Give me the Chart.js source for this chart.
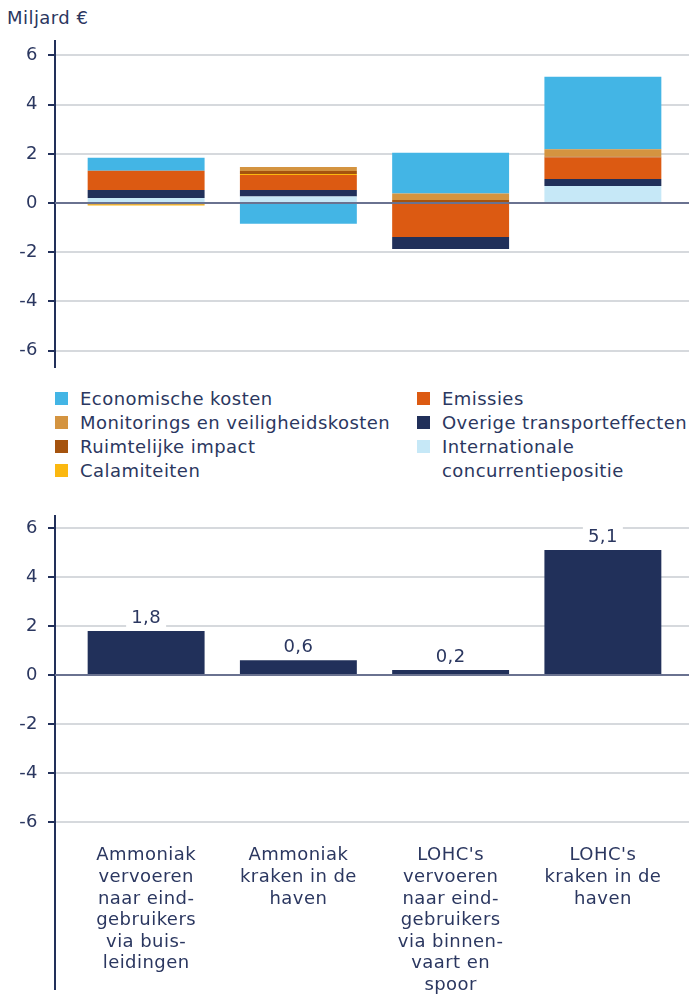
<!DOCTYPE html>
<html>
<head>
<meta charset="utf-8">
<script src="https://cdn.jsdelivr.net/npm/chart.js@4/dist/chart.umd.min.js"></script>
<style>
  body { margin: 0; background: #fff; font-family: "DejaVu Sans", sans-serif; color: #2b3760; letter-spacing: 0.45px; }
  #wrap { position: relative; width: 689px; height: 997px; overflow: hidden; }
  #unit { position: absolute; left: 7px; top: 7px; font-size: 18px; }
  #topBox { position: absolute; left: 0; top: 0; width: 689px; height: 380px; }
  #bottomBox { position: absolute; left: 0; top: 500px; width: 689px; height: 497px; }
  #legend { position: absolute; left: 55px; top: 387px; width: 634px; font-size: 18px; line-height: 24px; }
  .col { position: absolute; top: 0; }
  .item { position: relative; padding-left: 25px; white-space: nowrap; }
  .item i { position: absolute; left: 0; top: 5px; width: 13px; height: 13px; }
</style>
</head>
<body>
<div id="wrap">
  <div id="unit">Miljard €</div>
  <div id="topBox"><canvas id="topChart" width="689" height="380"></canvas></div>
  <div id="legend"></div>
  <div id="bottomBox"><canvas id="bottomChart" width="689" height="497"></canvas></div>
</div>
<script>
(function () {
  const $ = id => document.getElementById(id);
  const textColor = "#2b3760";

  // categories (tick labels for the bottom chart, one line per entry)
  const categories = [
    ["Ammoniak", "vervoeren", "naar eind-", "gebruikers", "via buis-", "leidingen"],
    ["Ammoniak", "kraken in de", "haven"],
    ["LOHC's", "vervoeren", "naar eind-", "gebruikers", "via binnen-", "vaart en", "spoor"],
    ["LOHC's", "kraken in de", "haven"]
  ];

  // effects per category, in Miljard €
  const economischeKosten = [0.53, -0.84, 1.65, 2.95];
  const emissies = [0.78, 0.61, -1.38, 0.87];
  const monitorings = [0, 0.16, 0.27, 0.31];
  const overigeTransport = [0.33, 0.27, -0.49, 0.29];
  const ruimtelijkeImpact = [-0.05, 0.12, 0.12, 0.03];
  const internationale = [0.2, 0.26, 0, 0.69];
  const calamiteiten = [-0.05, 0.04, 0, 0];

  // net totals (bottom chart)
  const totals = [1.8, 0.6, 0.2, 5.1];

  const yTicks = [-6, -4, -2, 0, 2, 4, 6];

  // stacking order from the zero line upwards
  const stackSeries = [
    { name: "Internationale concurrentiepositie", data: internationale, color: "#c6e8f7" },
    { name: "Overige transporteffecten", data: overigeTransport, color: "#21305a" },
    { name: "Emissies", data: emissies, color: "#dc5a12" },
    { name: "Calamiteiten", data: calamiteiten, color: "#fbb810" },
    { name: "Ruimtelijke impact", data: ruimtelijkeImpact, color: "#a5530e" },
    { name: "Monitorings en veiligheidskosten", data: monitorings, color: "#d49440" },
    { name: "Economische kosten", data: economischeKosten, color: "#43b5e5" }
  ];

  const legendOrder = [
    "Economische kosten", "Emissies",
    "Monitorings en veiligheidskosten", "Overige transporteffecten",
    "Ruimtelijke impact", ["Internationale", "concurrentiepositie"],
    "Calamiteiten"
  ];

  // legend (two columns)
  const legend = $("legend");
  const cols = [document.createElement("div"), document.createElement("div")];
  cols[0].className = "col"; cols[0].style.left = "0px";
  cols[1].className = "col"; cols[1].style.left = "362px";
  legendOrder.forEach((entry, i) => {
    const lines = Array.isArray(entry) ? entry : [entry];
    const s = stackSeries.find(d => d.name === lines.join(" "));
    const it = document.createElement("div");
    it.className = "item";
    it.innerHTML = `<i style="background:${s.color}"></i>${lines.join("<br>")}`;
    cols[i % 2].appendChild(it);
  });
  cols.forEach(c => legend.appendChild(c));

  // axis, gridlines and zero line drawn across the full width
  const axisPlugin = {
    id: "axisLines",
    beforeDraw(chart) {
      chart.ctx.letterSpacing = "0.45px";
    },
    beforeDatasetsDraw(chart, args, opts) {
      const ctx = chart.ctx, y = chart.scales.y;
      ctx.save();
      ctx.lineWidth = 2;
      ctx.strokeStyle = "#d6d9dd";
      yTicks.forEach(v => {
        if (v === 0) return;
        const py = Math.round(y.getPixelForValue(v));
        ctx.beginPath(); ctx.moveTo(55, py); ctx.lineTo(chart.width, py); ctx.stroke();
      });
      ctx.strokeStyle = "#22305a";
      ctx.beginPath(); ctx.moveTo(55, opts.top); ctx.lineTo(55, opts.bottom); ctx.stroke();
      yTicks.forEach(v => {
        const py = Math.round(y.getPixelForValue(v));
        ctx.beginPath(); ctx.moveTo(48, py); ctx.lineTo(55, py); ctx.stroke();
      });
      ctx.restore();
    },
    afterDatasetsDraw(chart) {
      const ctx = chart.ctx, y = chart.scales.y;
      const py = Math.round(y.getPixelForValue(0));
      ctx.save();
      ctx.lineWidth = 2;
      ctx.strokeStyle = "#6a7290";
      ctx.beginPath(); ctx.moveTo(55, py); ctx.lineTo(chart.width, py); ctx.stroke();
      ctx.restore();
    }
  };

  // value above each total bar, on a white box that cuts the gridline
  const valueLabels = {
    id: "valueLabels",
    afterDatasetsDraw(chart) {
      const ctx = chart.ctx;
      const meta = chart.getDatasetMeta(0);
      ctx.save();
      ctx.font = '18px "DejaVu Sans"';
      ctx.textAlign = "center";
      ctx.textBaseline = "middle";
      meta.data.forEach((bar, i) => {
        const txt = totals[i].toLocaleString("nl-NL");
        const w = ctx.measureText(txt).width + 10;
        const cy = bar.y - 13;
        ctx.fillStyle = "#fff";
        ctx.fillRect(bar.x - w / 2, cy - 11, w, 22);
        ctx.fillStyle = textColor;
        ctx.fillText(txt, bar.x, cy);
      });
      ctx.restore();
    }
  };

  const yScale = (min, max) => ({
    min: min, max: max, bounds: "data",
    border: { display: false },
    grid: { display: false, drawTicks: false },
    afterBuildTicks: s => { s.ticks = yTicks.map(v => ({ value: v })); },
    ticks: { padding: 32, color: textColor, font: { size: 18 } },
    afterFit: s => { s.width = 70; s.paddingTop = 0; s.paddingBottom = 0; }
  });

  // top chart: positive parts stack upward in series order, negative parts downward in reverse order
  const posSets = stackSeries.map(s => ({
    label: s.name, data: s.data.map(v => v > 0 ? v : null),
    backgroundColor: s.color, borderWidth: 0, stack: "s"
  }));
  const negSets = stackSeries.slice().reverse().map(s => ({
    label: s.name, data: s.data.map(v => v < 0 ? v : null),
    backgroundColor: s.color, borderWidth: 0, stack: "s"
  }));

  Chart.defaults.font.family = "DejaVu Sans";

  new Chart($("topChart").getContext("2d"), {
    type: "bar",
    data: { labels: categories.map(c => c.join(" ")), datasets: posSets.concat(negSets) },
    options: {
      responsive: false, maintainAspectRatio: false, animation: false,
      layout: { padding: { top: 40, bottom: 12, right: 10, left: 0 } },
      categoryPercentage: 1, barPercentage: 0.768,
      plugins: { legend: { display: false }, tooltip: { enabled: false }, axisLines: { top: 40, bottom: 368 } },
      scales: {
        x: { stacked: true, display: false },
        y: Object.assign(yScale(-6.71, 6.63), { stacked: true })
      }
    },
    plugins: [axisPlugin]
  });

  new Chart($("bottomChart").getContext("2d"), {
    type: "bar",
    data: {
      labels: categories,
      datasets: [{ label: "Totaal", data: totals, backgroundColor: "#21305a", borderWidth: 0 }]
    },
    options: {
      responsive: false, maintainAspectRatio: false, animation: false,
      layout: { padding: { top: 15, bottom: 0, right: 10, left: 0 } },
      categoryPercentage: 1, barPercentage: 0.768,
      plugins: { legend: { display: false }, tooltip: { enabled: false }, axisLines: { top: 15, bottom: 490 } },
      scales: {
        x: {
          border: { display: false },
          grid: { display: false, drawTicks: false },
          ticks: { color: textColor, font: { size: 18, lineHeight: 1.2 }, padding: 10, autoSkip: false, maxRotation: 0 },
          afterFit: s => { s.height = 162; }
        },
        y: yScale(-6.53, 6.53)
      }
    },
    plugins: [axisPlugin, valueLabels]
  });
})();
</script>
</body>
</html>
